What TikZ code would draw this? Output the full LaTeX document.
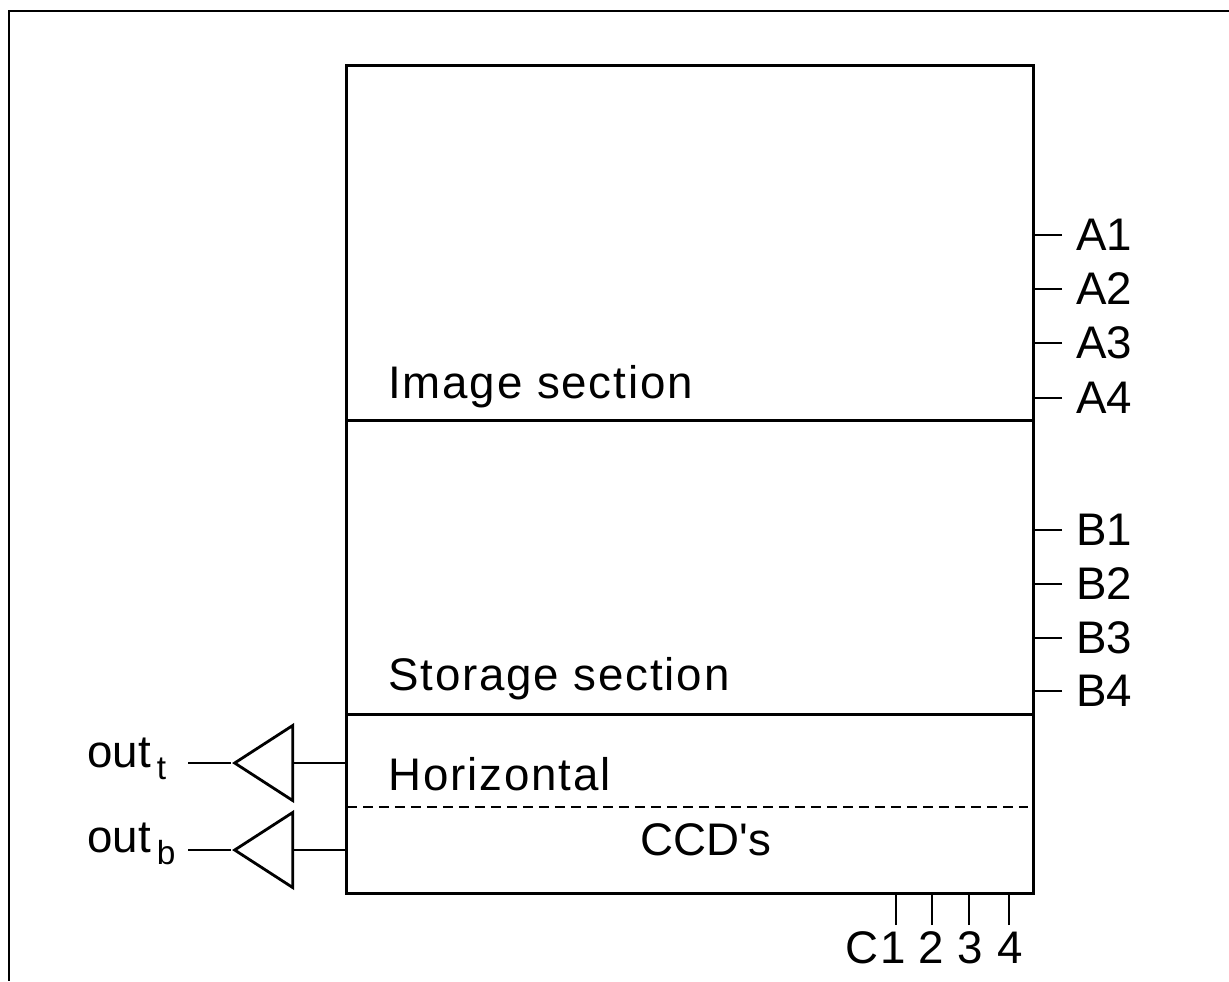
\documentclass[tikz,border=0pt]{standalone}
\usepackage{fontspec}
\setmainfont{Liberation Sans}
\newfontfamily\spaced[LetterSpace=4]{Liberation Sans}
\usetikzlibrary{shapes.geometric}
\newcommand{\outsub}[1]{out\hspace{0.12cm}\raisebox{-0.24cm}{\fontsize{19}{19}\selectfont #1}}
\tikzset{
  section/.style={draw,line width=1.5pt,minimum width=13.74cm,anchor=north west,inner sep=0},
  label/.style={inner sep=0,font=\fontsize{26}{30}\selectfont},
  pinlabel/.style={label,anchor=west,inner xsep=0.28cm},
  buffer/.style={draw,line width=1.6pt,isosceles triangle,isosceles triangle stretches,shape border rotate=180,
    minimum width=1.5cm,minimum height=1.16cm,inner sep=0,anchor=apex},
  wire/.style={line width=1.3pt}
}
\begin{document}
\begin{tikzpicture}[x=0.02cm,y=-0.02cm]
\useasboundingbox (0,0) rectangle (1229,981);
% outer frame
\coordinate (frametop) at (1229,11);
\coordinate (framecorner) at (9,11);
\coordinate (framebottom) at (9,981);
\draw[line width=1.7pt] (frametop) -- (framecorner) -- (framebottom);
% the three sections
\node[section,minimum height=7.1cm] (image) at (345,64) {};
\node[section,minimum height=5.88cm] (storage) at (345,419) {};
\node[section,minimum height=3.58cm] (horizontal) at (345,713) {};
\node[label,anchor=base west] (imagetext) at (388,398) {\spaced Image section};
\node[label,anchor=base west] (storagetext) at (388,690) {\spaced Storage section};
\node[label,anchor=base west] (horizontaltext) at (388,790) {\spaced Horizontal};
\node[label,anchor=base west] (ccdtext) at (640,855) {CCD\textquotesingle s};
\coordinate (dashleft) at (347,807);
\coordinate (dashright) at (1028,807);
\draw[line width=1.5pt,dash pattern=on 0.2cm off 0.12cm] (dashleft) -- (dashright);
% side pins
\node[pinlabel] (A1) at (1062,235) {A1};
\node[pinlabel] (A2) at (1062,289) {A2};
\node[pinlabel] (A3) at (1062,343) {A3};
\node[pinlabel] (A4) at (1062,398) {A4};
\node[pinlabel] (B1) at (1062,530) {B1};
\node[pinlabel] (B2) at (1062,584) {B2};
\node[pinlabel] (B3) at (1062,638) {B3};
\node[pinlabel] (B4) at (1062,691) {B4};
\draw[wire] (A1.west) -- (A1.west -| image.east);
\draw[wire] (A2.west) -- (A2.west -| image.east);
\draw[wire] (A3.west) -- (A3.west -| image.east);
\draw[wire] (A4.west) -- (A4.west -| image.east);
\draw[wire] (B1.west) -- (B1.west -| image.east);
\draw[wire] (B2.west) -- (B2.west -| image.east);
\draw[wire] (B3.west) -- (B3.west -| image.east);
\draw[wire] (B4.west) -- (B4.west -| image.east);
% bottom pins
\node[label,anchor=base east] (C1) at (906,963) {\spaced C1};
\node[label,anchor=base] (C2) at (931,963) {2};
\node[label,anchor=base] (C3) at (970,963) {3};
\node[label,anchor=base] (C4) at (1010,963) {4};
\coordinate (C1top) at (896,925);
\coordinate (C2top) at (932,925);
\coordinate (C3top) at (969,925);
\coordinate (C4top) at (1009,925);
\draw[wire] (C1top) -- (C1top |- horizontal.south);
\draw[wire] (C2top) -- (C2top |- horizontal.south);
\draw[wire] (C3top) -- (C3top |- horizontal.south);
\draw[wire] (C4top) -- (C4top |- horizontal.south);
% output amplifiers
\node[buffer] (ampt) at (231,763) {};
\node[buffer] (ampb) at (231,850) {};
\node[label,anchor=base west] (outt) at (87,767) {\outsub{t}};
\node[label,anchor=base west] (outb) at (87,852) {\outsub{b}};
\coordinate (outtend) at (188,763);
\coordinate (outbend) at (188,850);
\draw[wire] (outtend) -- (ampt.apex);
\draw[wire] (outbend) -- (ampb.apex);
\draw[wire] (ampt.lower side) -- (ampt.lower side -| horizontal.west);
\draw[wire] (ampb.lower side) -- (ampb.lower side -| horizontal.west);
\end{tikzpicture}
\end{document}
